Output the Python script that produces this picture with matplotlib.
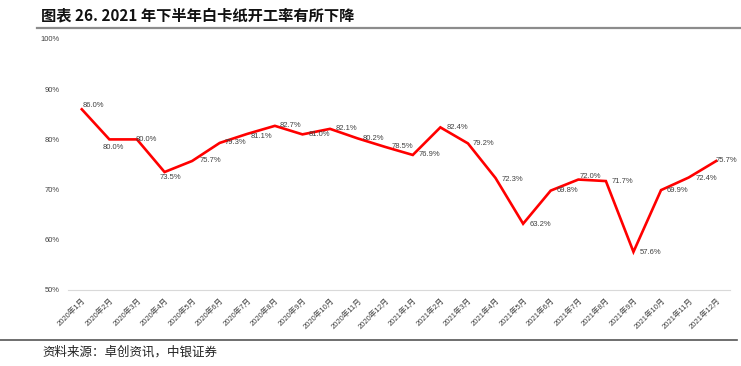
#!/usr/bin/env python3

import matplotlib
import matplotlib.pyplot as plt
from matplotlib.lines import Line2D

matplotlib.use('Agg')

plt.rcParams['font.family'] = ['Liberation Sans', 'Noto Sans CJK SC', 'DejaVu Sans']

months = ['2020年1月', '2020年2月', '2020年3月', '2020年4月', '2020年5月', '2020年6月',
          '2020年7月', '2020年8月', '2020年9月', '2020年10月', '2020年11月', '2020年12月',
          '2021年1月', '2021年2月', '2021年3月', '2021年4月', '2021年5月', '2021年6月',
          '2021年7月', '2021年8月', '2021年9月', '2021年10月', '2021年11月', '2021年12月']
rate = [86.0, 80.0, 80.0, 73.5, 75.7, 79.3, 81.1, 82.7, 81.0, 82.1, 80.2, 78.5,
        76.9, 82.4, 79.2, 72.3, 63.2, 69.8, 72.0, 71.7, 57.6, 69.9, 72.4, 75.7]
yticks = [50, 60, 70, 80, 90, 100]

# label offsets in pixels (dx, dy), label anchored at its left/center
label_offsets = [(1, 4), (-7, -8), (-1, 0), (-5, -5), (7, 0), (5, 0), (3, -3), (5, 0),
                 (6, 0), (6, 0), (5, 0), (6, 0), (6, 0), (6, 0), (5, 0), (6, -1),
                 (6, -1), (6, 0), (1, 3), (6, 0), (6, -1), (6, 0), (7, -1), (-1, 0)]

text_color = '#404040'

fig = plt.figure(figsize=(7.41, 3.66), dpi=100)
ax = fig.add_axes([68/741, 1 - 290/366, 662/741, 251/366])

x = list(range(len(months)))
ax.plot(x, rate, color='#FF0000', lw=1.9, solid_joinstyle='miter')

for i, v in enumerate(rate):
    dx, dy = label_offsets[i]
    ax.annotate(f'{v:.1f}%', (i, v), xytext=(dx, dy), textcoords='offset pixels',
                ha='left', va='center', fontsize=5.5, color=text_color)

ax.set_xlim(-0.5, len(months) - 0.5)
ax.set_ylim(50, 100)
ax.set_yticks(yticks)
ax.set_yticklabels([f'{t}%' for t in yticks], fontsize=5.4, color=text_color)
ax.set_xticks(x)
ax.set_xticklabels(months, rotation=45, ha='right', va='top', rotation_mode='anchor',
                   fontsize=5.5, color=text_color)
ax.tick_params(axis='both', length=0)
ax.tick_params(axis='y', pad=6)
ax.tick_params(axis='x', pad=5)

for side in ['top', 'right', 'left']:
    ax.spines[side].set_visible(False)
ax.spines['bottom'].set_color('#D9D9D9')
ax.spines['bottom'].set_linewidth(0.8)

fig.text(41/741, 1 - 15/366, '图表 26. 2021 年下半年白卡纸开工率有所下降', fontsize=11,
         fontweight='bold', color='#111111', va='center', ha='left',
         family=['Noto Sans CJK SC', 'Liberation Sans'])
fig.add_artist(Line2D([37/741, 1], [1 - 28/366, 1 - 28/366], color='#8C8C8C', lw=1.6,
                      transform=fig.transFigure))
fig.add_artist(Line2D([0, 737/741], [1 - 340/366, 1 - 340/366], color='#555555', lw=1.2,
                      transform=fig.transFigure))
fig.text(42/741, 1 - 352/366, '资料来源：卓创资讯，中银证券', fontsize=9, color='#222222',
         va='center', ha='left', style='italic', family=['Noto Sans CJK SC', 'DejaVu Sans'])

plt.savefig('out.png', dpi=100)
